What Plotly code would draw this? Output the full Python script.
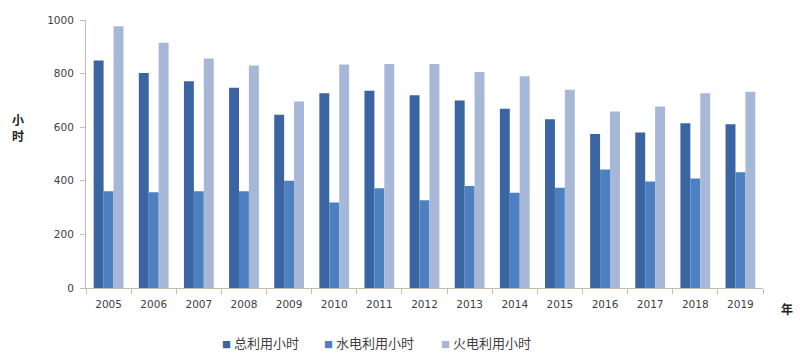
import plotly.graph_objects as go

years = ["2005", "2006", "2007", "2008", "2009", "2010", "2011", "2012",
         "2013", "2014", "2015", "2016", "2017", "2018", "2019"]
total_hours = [849, 802, 771, 747, 646, 727, 736, 719, 700, 669, 630, 575, 580, 615, 611]
hydro_hours = [361, 357, 361, 361, 400, 319, 372, 327, 381, 355, 374, 442, 397, 409, 432]
thermal_hours = [977, 915, 856, 830, 696, 834, 836, 836, 806, 790, 740, 659, 677, 727, 732]
series_names = ["总利用小时", "水电利用小时", "火电利用小时"]
colors = ["#3B65A2", "#4D80C1", "#A7B7D7"]
y_ticks = [0, 200, 400, 600, 800, 1000]

fig = go.Figure()
for name, vals, c in zip(series_names, [total_hours, hydro_hours, thermal_hours], colors):
    fig.add_trace(go.Bar(x=years, y=vals, name=name, marker_color=c,
                         marker_line_width=0, showlegend=False))

# legend drawn as text items (marker square + series name)
L, T, W, H = 86, 20, 677, 268
legend_px = [220, 322, 439]
legend_ann = []
for name, c, px in zip(series_names, colors, legend_px):
    legend_ann.append(dict(
        text=f"<span style='color:{c};font-size:9px'>■</span> {name}",
        xref="paper", yref="paper", x=(px - L) / W, y=(T + H - 342) / H,
        xanchor="left", yanchor="middle", showarrow=False,
        font=dict(family="Noto Sans CJK SC", size=13, color="#404040")))

axis_color = "#C9BBAE"
fig.update_layout(
    width=800, height=360,
    margin=dict(l=L, r=800 - L - W, t=T, b=360 - T - H),
    paper_bgcolor="white", plot_bgcolor="white",
    barmode="group", bargap=0.34, bargroupgap=0,
    font=dict(family="DejaVu Sans, Noto Sans CJK SC", size=11, color="#505050"),
    showlegend=False,
    xaxis=dict(type="category", range=[-0.5, 14.5], showline=True,
               linecolor=axis_color, linewidth=1, ticks="outside",
               tickcolor=axis_color, ticklen=5, tickson="boundaries",
               showgrid=False, zeroline=False, ticklabelstandoff=6,
               tickfont=dict(family="DejaVu Sans", size=10.5, color="#404040")),
    yaxis=dict(range=[0, 1000], tickvals=y_ticks, showline=True,
               linecolor=axis_color, linewidth=1, ticks="outside",
               tickcolor=axis_color, ticklen=5, showgrid=False, zeroline=False,
               ticklabelstandoff=4,
               tickfont=dict(family="DejaVu Sans", size=10.5, color="#404040")),
    annotations=legend_ann + [
        dict(text="<b>小</b><br><b>时</b>", xref="paper", yref="paper", x=-0.1, y=0.6,
             xanchor="center", yanchor="middle", showarrow=False,
             font=dict(family="Noto Sans CJK SC", size=12, color="#222222"),
             align="center"),
        dict(text="<b>年</b>", xref="paper", yref="paper", x=1.036, y=-0.075,
             xanchor="center", yanchor="middle", showarrow=False,
             font=dict(family="Noto Sans CJK SC", size=12, color="#222222")),
    ],
)

fig.write_html("out.html")
